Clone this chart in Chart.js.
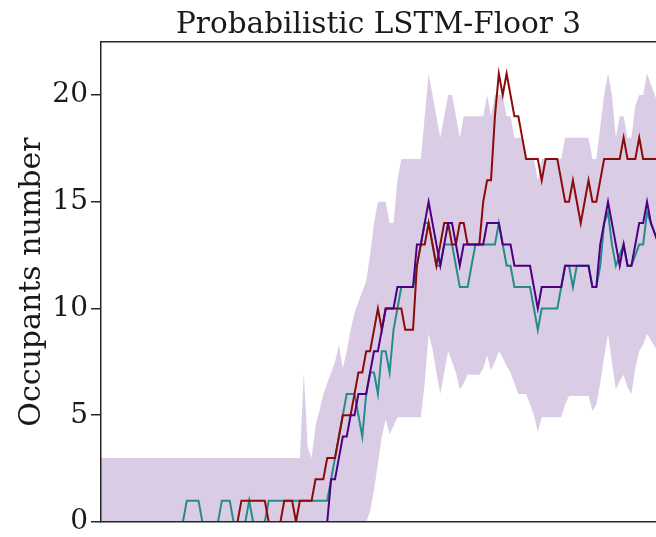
<!DOCTYPE html>
<html>
<head>
<meta charset="utf-8">
<title>Probabilistic LSTM-Floor 3</title>
<script src="https://cdn.jsdelivr.net/npm/chart.js@4.4.1/dist/chart.umd.min.js"></script>
<style>
  html, body { margin: 0; padding: 0; background: #fff; }
  #chart { display: block; }
</style>
</head>
<body>
<canvas id="chart" width="656" height="537"></canvas>
<script>
'use strict';

// observed occupants (dark red), one value per time step
const actualCount = [
  0, 0, 0, 0, 0, 0, 0, 0, 0, 0,
  0, 0, 0, 0, 0, 0, 0, 0, 0, 0,
  0, 0, 0, 0, 0, 0, 0, 0, 0, 0,
  0, 0, 0, 0, 0, 0, 1, 1, 1, 1,
  1, 1, 1, 0, 0, 0, 0, 1, 1, 1,
  0, 1, 1, 1, 1, 2, 2, 2, 3, 3,
  3, 4, 5, 5, 5, 6, 7, 7, 8, 8,
  9, 10, 9, 10, 10, 10, 10, 10, 9, 9,
  9, 12, 13, 13, 14, 13, 12, 13, 14, 14,
  13, 13, 14, 14, 13, 13, 13, 13, 15, 16,
  16, 19, 21, 20, 21, 20, 19, 19, 18, 17,
  17, 17, 17, 16, 17, 17, 17, 17, 16, 15,
  15, 16, 15, 14, 15, 16, 15, 15, 16, 17,
  17, 17, 17, 17, 18, 17, 17, 17, 18, 17,
  17, 17, 17, 17,
];

// probabilistic LSTM mean prediction (indigo)
const lstmMean = [
  0, 0, 0, 0, 0, 0, 0, 0, 0, 0,
  0, 0, 0, 0, 0, 0, 0, 0, 0, 0,
  0, 0, 0, 0, 0, 0, 0, 0, 0, 0,
  0, 0, 0, 0, 0, 0, 0, 0, 0, 0,
  0, 0, 0, 0, 0, 0, 0, 0, 0, 0,
  0, 0, 0, 0, 0, 0, 0, 0, 0, 2,
  2, 3, 4, 4, 5, 5, 6, 6, 6, 7,
  8, 8, 9, 10, 10, 10, 11, 11, 11, 11,
  11, 13, 13, 14, 15, 14, 13, 12, 13, 14,
  14, 13, 12, 13, 13, 13, 13, 13, 13, 14,
  14, 14, 14, 13, 13, 13, 12, 12, 12, 12,
  12, 11, 10, 11, 11, 11, 11, 11, 11, 12,
  12, 12, 12, 12, 12, 12, 11, 11, 13, 14,
  15, 14, 13, 12, 13, 12, 12, 13, 14, 14,
  15, 14, 13.5, 13,
];

// second prediction (teal)
const altPrediction = [
  0, 0, 0, 0, 0, 0, 0, 0, 0, 0,
  0, 0, 0, 0, 0, 0, 0, 0, 0, 0,
  0, 0, 1, 1, 1, 1, 0, 0, 0, 0,
  0, 1, 1, 1, 0, 0, 0, 0, 1, 0,
  0, 0, 0, 1, 1, 1, 1, 1, 1, 1,
  1, 1, 1, 1, 1, 1, 1, 1, 1, 2,
  3, 4, 5, 6, 6, 6, 5, 4, 6, 7,
  7, 6, 8, 8, 7, 9, 10, 11, 11, 11,
  11, 12, 13, 14, 14, 13, 12, 12, 13, 13,
  13, 12, 11, 11, 11, 12, 13, 13, 13, 13,
  13, 13, 14, 13, 12, 12, 11, 11, 11, 11,
  11, 10, 9, 10, 10, 10, 10, 10, 11, 12,
  12, 11, 12, 12, 12, 12, 11, 11, 12, 14,
  14.5, 13, 12, 12.5, 13, 12, 12, 12.5, 13, 13,
  14.5, 14, 13.5, 13,
];

// uncertainty band edges
const bandUpper = [
  3, 3, 3, 3, 3, 3, 3, 3, 3, 3,
  3, 3, 3, 3, 3, 3, 3, 3, 3, 3,
  3, 3, 3, 3, 3, 3, 3, 3, 3, 3,
  3, 3, 3, 3, 3, 3, 3, 3, 3, 3,
  3, 3, 3, 3, 3, 3, 3, 3, 3, 3,
  3, 3, 7, 3.5, 3, 4.5, 5.2, 6, 6.5, 7,
  7.5, 8.3, 7.2, 8, 9, 9.8, 10.3, 10.8, 11.3, 12.5,
  14, 15, 15, 15, 14, 14, 16, 17, 17, 17,
  17, 17, 17, 19, 21, 20, 19, 18, 19, 20,
  20, 19, 18, 19, 19, 19, 19, 19, 19, 20,
  19, 20, 20, 20, 19, 19, 18, 18, 18, 17,
  17, 17, 16, 17, 17, 17, 17, 17, 17, 18,
  18, 18, 18, 18, 18, 18, 17, 17, 18.5, 20,
  21, 20, 18, 19, 19, 18, 18, 19.5, 20, 20,
  21, 20.5, 20, 19.5,
];

const bandLower = [
  0, 0, 0, 0, 0, 0, 0, 0, 0, 0,
  0, 0, 0, 0, 0, 0, 0, 0, 0, 0,
  0, 0, 0, 0, 0, 0, 0, 0, 0, 0,
  0, 0, 0, 0, 0, 0, 0, 0, 0, 0,
  0, 0, 0, 0, 0, 0, 0, 0, 0, 0,
  0, 0, 0, 0, 0, 0, 0, 0, 0, 0,
  0, 0, 0, 0, 0, 0, 0, 0, 0, 0.5,
  1.5, 2.7, 4, 4.8, 4.1, 4.5, 4.9, 4.9, 4.9, 4.9,
  4.9, 4.9, 4.9, 6.5, 8.8, 8.1, 7, 6, 7, 8,
  7.5, 7, 6.2, 6.5, 6.9, 6.9, 6.9, 6.9, 7.2, 7.8,
  7.1, 7.5, 8, 7.7, 7.3, 7, 6.5, 6, 6, 6,
  5.5, 5, 4.2, 4.9, 4.9, 4.9, 4.9, 4.9, 4.9, 5.5,
  5.9, 5.9, 5.9, 5.9, 5.9, 5.9, 5.2, 5.5, 6.5, 7.7,
  8.8, 7.5, 6.2, 6.6, 6.9, 6.3, 6, 7.2, 8, 8.3,
  8.8, 8.5, 8.2, 8,
];

const yTicks = [0, 5, 10, 15, 20];
const timeSteps = actualCount.map((_, i) => i);

const FONT = 'DejaVu Serif';
const AXIS_COLOR = '#262626';
const X_MAX = 142.3;
const Y_MAX = 22.48;

/**
 * Pair a value list with the shared time steps.
 * @param {number[]} values
 * @returns {Array<{x:number,y:number}>}
 */
const toPoints = (values) => values.map((v, i) => ({ x: timeSteps[i], y: v }));

const lineSet = (label, values, color, order) => ({
  label,
  data: toPoints(values),
  borderColor: color,
  borderWidth: 2,
  pointRadius: 0,
  tension: 0,
  fill: false,
  order,
});

new Chart(document.getElementById('chart'), {
  type: 'line',
  data: {
    datasets: [
      {
        label: 'upper',
        data: toPoints(bandUpper),
        borderWidth: 0,
        pointRadius: 0,
        backgroundColor: 'rgba(75, 0, 130, 0.2)',
        fill: '+1',
        order: 10,
      },
      {
        label: 'lower',
        data: toPoints(bandLower),
        borderWidth: 0,
        pointRadius: 0,
        fill: false,
        order: 11,
      },
      lineSet('alt', altPrediction, '#258b8b', 3),
      lineSet('actual', actualCount, '#8b0a0a', 2),
      lineSet('mean', lstmMean, '#4b0082', 1),
    ],
  },
  options: {
    responsive: false,
    animation: false,
    devicePixelRatio: 1,
    layout: { padding: 0 },
    plugins: {
      legend: { display: false },
      tooltip: { enabled: false },
      title: {
        display: true,
        text: 'Probabilistic LSTM-Floor 3',
        color: '#1a1a1a',
        fullSize: false,
        font: { family: FONT, size: 29.5, weight: 'normal', lineHeight: 1.1 },
        padding: { top: 9.5, bottom: 0.05 },
      },
    },
    scales: {
      x: {
        type: 'linear',
        min: 0,
        max: X_MAX,
        grid: { display: false },
        ticks: { display: false },
        border: { display: true, color: AXIS_COLOR, width: 1.5 },
        afterFit: (s) => { s.height = 15; },
      },
      x2: {
        type: 'linear',
        position: 'top',
        min: 0,
        max: X_MAX,
        grid: { display: false },
        ticks: { display: false },
        border: { display: true, color: AXIS_COLOR, width: 1.5 },
        afterFit: (s) => { s.height = 0; },
      },
      y: {
        min: 0,
        max: Y_MAX,
        afterBuildTicks: (s) => { s.ticks = yTicks.map((v) => ({ value: v })); },
        grid: {
          display: true,
          drawOnChartArea: false,
          drawTicks: true,
          tickLength: 10,
          color: AXIS_COLOR,
          lineWidth: 1.5,
        },
        border: { display: true, color: AXIS_COLOR, width: 1.5 },
        ticks: {
          color: '#1a1a1a',
          padding: 3,
          font: { family: FONT, size: 28 },
        },
        title: {
          display: true,
          text: 'Occupants number',
          color: '#1a1a1a',
          font: { family: FONT, size: 30, lineHeight: 1.2 },
          padding: { top: 14, bottom: 0 },
        },
        afterFit: (s) => {
          s.width = 101;
          s.paddingTop = 0;
          s.paddingBottom = 0;
        },
      },
    },
  },
});
</script>
</body>
</html>
